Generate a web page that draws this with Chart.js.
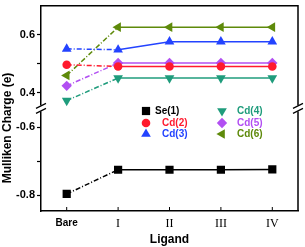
<!DOCTYPE html>
<html lang="en">
<head>
    <meta charset="UTF-8">
    <title>Mulliken Charge vs Ligand</title>
    <script src="https://cdn.jsdelivr.net/npm/chart.js"></script>
    <style>
        body { margin: 0; background: #fff; }
        #chargeChart { display: block; }
    </style>
</head>
<body>
    <canvas id="chargeChart" width="305" height="247"></canvas>
    <script>
        // data
        const ligands = ["Bare", "I", "II", "III", "IV"];
        const se1 = [-0.796, -0.725, -0.725, -0.725, -0.724];
        const cd2 = [0.496, 0.490, 0.490, 0.490, 0.490];
        const cd3 = [0.551, 0.548, 0.576, 0.576, 0.576];
        const cd4 = [0.372, 0.450, 0.450, 0.450, 0.450];
        const cd5 = [0.423, 0.502, 0.502, 0.502, 0.502];
        const cd6 = [0.459, 0.626, 0.626, 0.626, 0.626];

        const upperTicks = [0.4, 0.5, 0.6];
        const lowerTicks = [-0.8, -0.7, -0.6];
        const labelledTicks = [0.4, 0.6, -0.6, -0.8];

        const dashDot = [5, 2, 1, 2];

        function series(label, data, color, style, rotation, radius, axis) {
            return {
                label: label,
                data: data,
                yAxisID: axis,
                borderColor: color,
                backgroundColor: color,
                borderWidth: 1.5,
                pointStyle: style,
                rotation: rotation,
                pointRadius: radius,
                pointBorderWidth: 0,
                segment: {
                    borderDash: (ctx) => ctx.p0DataIndex === 0 ? dashDot : undefined
                }
            };
        }

        const datasets = [
            series("Se(1)", se1, "#000000", "rect", 0, 5.8, "y2"),
            series("Cd(2)", cd2, "#ff1a2e", "circle", 0, 4.3, "y"),
            series("Cd(3)", cd3, "#2343ff", "triangle", 0, 5.6, "y"),
            series("Cd(4)", cd4, "#1f9c7c", "triangle", 180, 5.6, "y"),
            series("Cd(5)", cd5, "#b24ff2", "rectRot", 0, 5.2, "y"),
            series("Cd(6)", cd6, "#5e8a0a", "triangle", 270, 5.6, "y")
        ];

        // legend inside the plot: [dataset index, marker x, text x, y]
        const legendSpots = [
            [0, 146, 155, 111],
            [1, 146, 162, 123],
            [2, 146, 162, 134],
            [3, 222, 237, 111],
            [4, 222, 237, 123],
            [5, 222, 237, 134]
        ];

        const extras = {
            id: "extras",
            afterDraw(chart) {
                const ctx = chart.ctx;
                const area = chart.chartArea;
                const breakY = chart.scales.y.bottom;
                ctx.save();

                // top and right frame
                ctx.strokeStyle = "#000";
                ctx.lineWidth = 1.5;
                ctx.beginPath();
                ctx.moveTo(area.left, area.top);
                ctx.lineTo(area.right, area.top);
                ctx.lineTo(area.right, area.bottom);
                ctx.stroke();

                // inward ticks on the x axis
                const xs = chart.scales.x;
                ctx.lineWidth = 1;
                ligands.forEach((l, i) => {
                    const px = xs.getPixelForValue(i);
                    ctx.beginPath();
                    ctx.moveTo(px, area.bottom);
                    ctx.lineTo(px, area.bottom - 4);
                    ctx.stroke();
                });

                // axis break marks
                [area.left, area.right].forEach((bx) => {
                    ctx.fillStyle = "#fff";
                    ctx.fillRect(bx - 2, breakY - 3, 4, 6);
                    ctx.strokeStyle = "#000";
                    ctx.lineWidth = 1.2;
                    [-2.5, 2.5].forEach((dy) => {
                        ctx.beginPath();
                        ctx.moveTo(bx - 5, breakY + dy + 2.5);
                        ctx.lineTo(bx + 5, breakY + dy - 2.5);
                        ctx.stroke();
                    });
                });

                // y axis title
                ctx.fillStyle = "#000";
                ctx.font = "bold 12px 'Liberation Sans', Arial, sans-serif";
                ctx.textAlign = "center";
                ctx.textBaseline = "middle";
                ctx.translate(8, 128);
                ctx.rotate(-Math.PI / 2);
                ctx.fillText("Mulliken Charge (e)", 0, 0);
                ctx.restore();

                // legend
                ctx.save();
                ctx.font = "bold 10px 'Liberation Sans', Arial, sans-serif";
                ctx.textAlign = "left";
                ctx.textBaseline = "middle";
                legendSpots.forEach(([i, mx, tx, y]) => {
                    const ds = datasets[i];
                    ctx.fillStyle = ds.borderColor;
                    ctx.strokeStyle = ds.borderColor;
                    Chart.helpers.drawPoint(ctx, {
                        pointStyle: ds.pointStyle,
                        rotation: ds.rotation,
                        radius: ds.pointRadius,
                        borderWidth: 0
                    }, mx, y);
                    ctx.fillStyle = ds.borderColor;
                    ctx.fillText(ds.label, tx, y);
                });
                ctx.restore();
            }
        };

        const sansFamily = "'Liberation Sans', Arial, sans-serif";

        function yAxis(min, max, tickList) {
            return {
                type: "linear",
                position: "left",
                stack: "charge",
                stackWeight: 1,
                min: min,
                max: max,
                afterBuildTicks: (scale) => { scale.ticks = tickList.map((v) => ({ value: v })); },
                grid: { drawOnChartArea: false, tickLength: 4, tickColor: "#000", tickWidth: 1.2 },
                border: { color: "#000", width: 1.5 },
                ticks: {
                    color: "#000",
                    padding: 2,
                    font: { family: sansFamily, weight: "bold", size: 11 },
                    callback: (v) => labelledTicks.includes(v) ? v.toFixed(1) : ""
                },
                afterFit: (scale) => {
                    scale.width = 41;
                    scale.paddingTop = 0;
                    scale.paddingBottom = 0;
                }
            };
        }

        new Chart(document.getElementById("chargeChart"), {
            type: "line",
            data: { labels: ligands, datasets: datasets },
            plugins: [extras],
            options: {
                responsive: false,
                animation: false,
                layout: { padding: { top: 0, right: 7, left: 0, bottom: 0 } },
                plugins: { legend: { display: false }, tooltip: { enabled: false } },
                scales: {
                    x: {
                        type: "category",
                        offset: true,
                        grid: { drawOnChartArea: false, drawTicks: false },
                        border: { color: "#000", width: 1.5 },
                        ticks: {
                            color: "#000",
                            padding: 6,
                            font: (ctx) => ctx.index === 0
                                ? { family: sansFamily, weight: "bold", size: 10 }
                                : { family: "'Liberation Serif', 'Times New Roman', serif", weight: "normal", size: 12 }
                        },
                        title: {
                            display: true,
                            text: "Ligand",
                            color: "#000",
                            padding: { top: 1, bottom: 0 },
                            font: { family: sansFamily, weight: "bold", size: 12 }
                        },
                        afterFit: (scale) => { scale.height = 36; }
                    },
                    // lower part defined first so it sits below the upper part
                    y2: yAxis(-0.846, -0.545, lowerTicks),
                    y: yAxis(0.345, 0.70, upperTicks)
                }
            }
        });
    </script>
</body>
</html>
